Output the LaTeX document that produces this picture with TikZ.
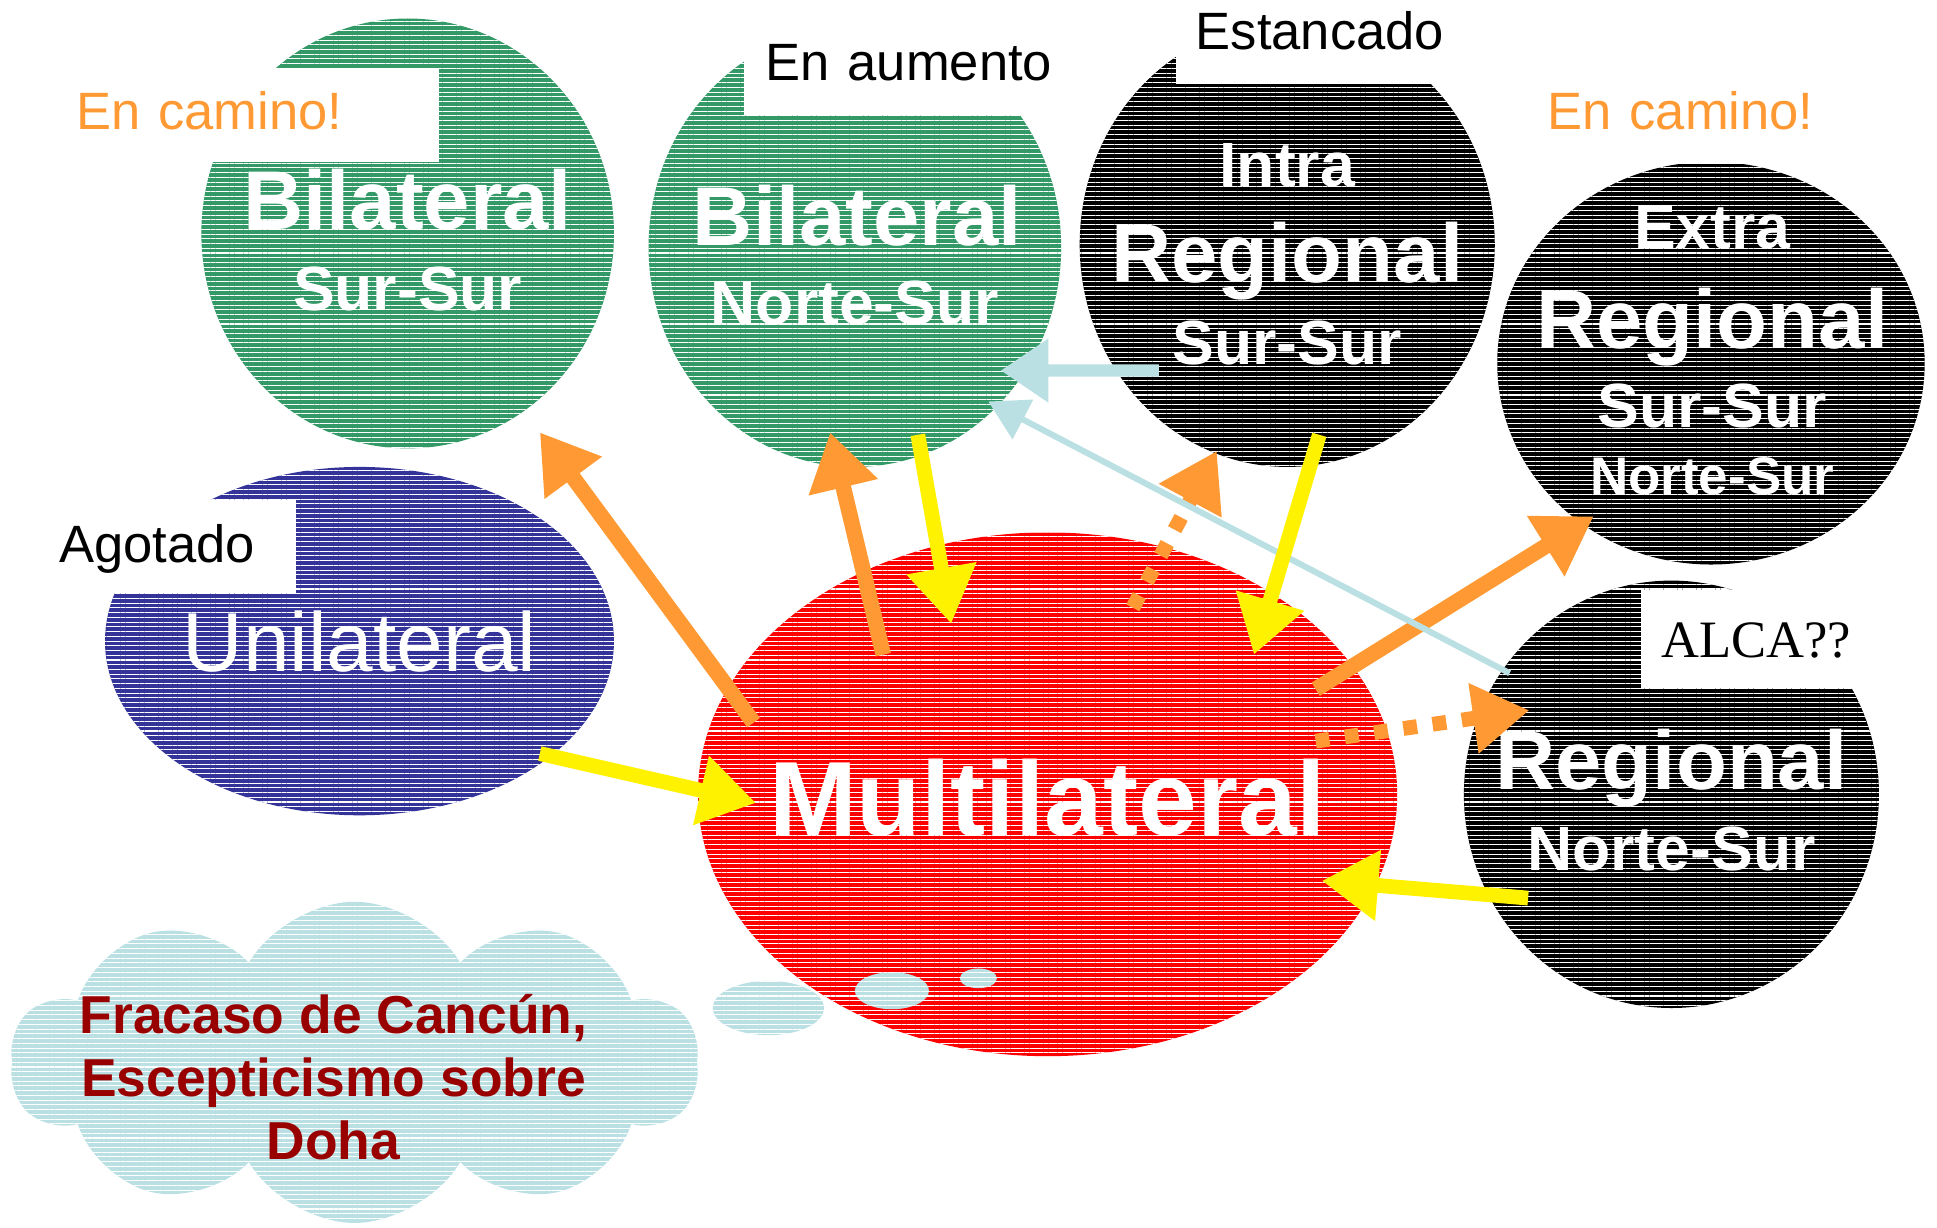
\documentclass[tikz,border=0pt]{standalone}
\usepackage{fontspec}
\setmainfont{Liberation Sans}
\newfontfamily\alcafont{Liberation Serif}
\usetikzlibrary{shapes.geometric,shapes.symbols,arrows.meta,patterns.meta}

\definecolor{ppgreen}{RGB}{51,153,102}
\definecolor{ppnavy}{RGB}{51,51,153}
\definecolor{pporange}{RGB}{255,153,51}
\definecolor{ppsky}{RGB}{187,224,227}
\definecolor{ppwine}{RGB}{153,0,0}

\tikzset{
  stripes/.style={preaction={fill=#1}, pattern={Lines[angle=0,distance=1.09pt,line width=0.24pt]}, pattern color=white},
  blob/.style={ellipse, inner sep=0pt, outer sep=0pt, stripes=#1},
  tag/.style={anchor=base west, fill=white, align=left, inner ysep=0pt, outer sep=0pt, font=\fontsize{12.1pt}{14pt}\selectfont},
  txtxl/.style={anchor=base, text=white, font=\fontsize{24.3pt}{26pt}\selectfont\bfseries},
  txtl/.style={anchor=base, text=white, font=\fontsize{19.2pt}{21pt}\selectfont\bfseries},
  txtm/.style={anchor=base, text=white, font=\fontsize{14.4pt}{16pt}\selectfont\bfseries},
  txts/.style={anchor=base, text=white, font=\fontsize{12.2pt}{14pt}\selectfont\bfseries},
  headtip/.style={-{Triangle[length=13pt,width=15.5pt]}},
  orangearr/.style={headtip, draw=pporange, line width=3.6pt},
  dotarr/.style={headtip, draw=pporange, line width=3.4pt, dash pattern=on 3.2pt off 3.6pt},
  yellowarr/.style={headtip, draw=yellow, line width=3.4pt},
  skyarr/.style={draw=ppsky, line width=2.8pt, -{Triangle[length=11pt,width=14pt]}},
  skythin/.style={draw=ppsky, line width=1.4pt, -{Triangle[length=9pt,width=10pt]}}
}

\begin{document}
\begin{tikzpicture}
\useasboundingbox (0,0) rectangle (15.68,9.94);
\node[blob=ppgreen, minimum width=3.34cm, minimum height=3.48cm] (bilss) at (3.30,8.05) {};
\node[blob=ppgreen, minimum width=3.34cm, minimum height=3.56cm] (bilns) at (6.92,7.94) {};
\node[blob=black, minimum width=3.36cm, minimum height=3.60cm] (intra) at (10.42,7.96) {};
\node[blob=black, minimum width=3.46cm, minimum height=3.26cm] (extra) at (13.85,7.00) {};
\node[blob=ppnavy, minimum width=4.12cm, minimum height=2.82cm] (uni) at (2.91,4.75) {};
\node[blob=red, minimum width=5.66cm, minimum height=4.24cm] (multi) at (8.48,3.51) {};
\node[blob=black, minimum width=3.36cm, minimum height=3.46cm] (regns) at (13.53,3.51) {};
\node[cloud, cloud puffs=10, cloud puff arc=120, cloud ignores aspect, inner sep=0pt, stripes=ppsky, minimum width=5.57cm, minimum height=2.6cm] (doha) at (2.87,1.34) {};
\node[blob=ppsky, minimum width=0.90cm, minimum height=0.44cm] (bub1) at (6.22,1.78) {};
\node[blob=ppsky, minimum width=0.60cm, minimum height=0.30cm] (bub2) at (7.22,1.92) {};
\node[blob=ppsky, minimum width=0.30cm, minimum height=0.16cm] (bub3) at (7.92,2.02) {};
\node[tag, text=pporange, text width=2.81cm, inner xsep=0.12cm, text height=0.50cm, text depth=0.26cm] (camino1) at (0.50,8.89) {En camino!};
\node[tag, text width=2.32cm, inner xsep=0.18cm, text height=0.60cm, text depth=0.28cm] (aumento) at (6.02,9.29) {En aumento};
\node[tag, text width=2.16cm, inner xsep=0.16cm, text height=0.60cm, text depth=0.28cm] (estancado) at (9.52,9.54) {Estancado};
\node[tag, text=pporange, text width=2.64cm, inner xsep=0.13cm, text height=0.50cm, text depth=0.28cm] (camino2) at (12.40,8.89) {En camino!};
\node[tag, text width=1.74cm, inner xsep=0.18cm, text height=0.50cm, text depth=0.25cm] (agotado) at (0.30,5.39) {Agotado};
\node[tag, text width=1.78cm, inner xsep=0.17cm, text height=0.54cm, text depth=0.25cm, font=\alcafont\fontsize{12.1pt}{14pt}\selectfont] (alca) at (13.28,4.62) {ALCA??};
\node[txtl] (bilss1) at (3.30,8.08) {Bilateral};
\node[txtm] (bilss2) at (3.30,7.43) {Sur-Sur};
\node[txtl] (bilns1) at (6.94,7.95) {Bilateral};
\node[txtm] (bilns2) at (6.92,7.31) {Norte-Sur};
\node[txtm] (intra1) at (10.42,8.43) {Intra};
\node[txtl] (intra2) at (10.42,7.65) {Regional};
\node[txtm] (intra3) at (10.42,6.99) {Sur-Sur};
\node[txtm] (extra1) at (13.86,7.93) {Extra};
\node[txtl] (extra2) at (13.86,7.12) {Regional};
\node[txtm] (extra3) at (13.86,6.48) {Sur-Sur};
\node[txts] (extra4) at (13.86,5.94) {Norte-Sur};
\node[txtl, font=\fontsize{19.3pt}{21pt}\selectfont] (uni1) at (2.91,4.50) {Unilateral};
\node[txtxl] (multi1) at (8.48,3.18) {Multilateral};
\node[txtl] (regns1) at (13.53,3.55) {Regional};
\node[txtm] (regns2) at (13.53,2.89) {Norte-Sur};
\node[align=center, text=ppwine, font=\fontsize{12.3pt}{14.6pt}\selectfont\bfseries] (dohatxt) at (2.70,1.22) {Fracaso de Cancún,\\Escepticismo sobre\\Doha};
\draw[orangearr] ([shift={(-2.38,0.58)}]multi.center) -- ([shift={(1.07,-1.61)}]bilss.center);
\draw[orangearr] ([shift={(-1.33,1.13)}]multi.center) -- ([shift={(-0.20,-1.50)}]bilns.center);
\draw[dotarr] ([shift={(0.69,1.51)}]multi.center) -- ([shift={(-0.57,-1.67)}]intra.center);
\draw[orangearr] ([shift={(2.17,0.85)}]multi.center) -- ([shift={(-0.95,-1.24)}]extra.center);
\draw[dotarr] ([shift={(2.17,0.43)}]multi.center) -- ([shift={(-1.15,0.68)}]regns.center);
\draw[skyarr] ([shift={(-1.04,-1.02)}]intra.center) -- ([shift={(1.18,-1.00)}]bilns.center);
\draw[skythin] ([shift={(-1.31,0.98)}]regns.center) -- ([shift={(1.08,-1.25)}]bilns.center);
\draw[yellowarr] ([shift={(0.51,-1.52)}]bilns.center) -- ([shift={(-0.78,1.38)}]multi.center);
\draw[yellowarr] ([shift={(0.26,-1.54)}]intra.center) -- ([shift={(1.67,1.13)}]multi.center);
\draw[yellowarr] ([shift={(1.46,-0.91)}]uni.center) -- ([shift={(-2.36,-0.07)}]multi.center);
\draw[yellowarr] ([shift={(-1.16,-0.84)}]regns.center) -- ([shift={(2.22,-0.70)}]multi.center);
\end{tikzpicture}
\end{document}
